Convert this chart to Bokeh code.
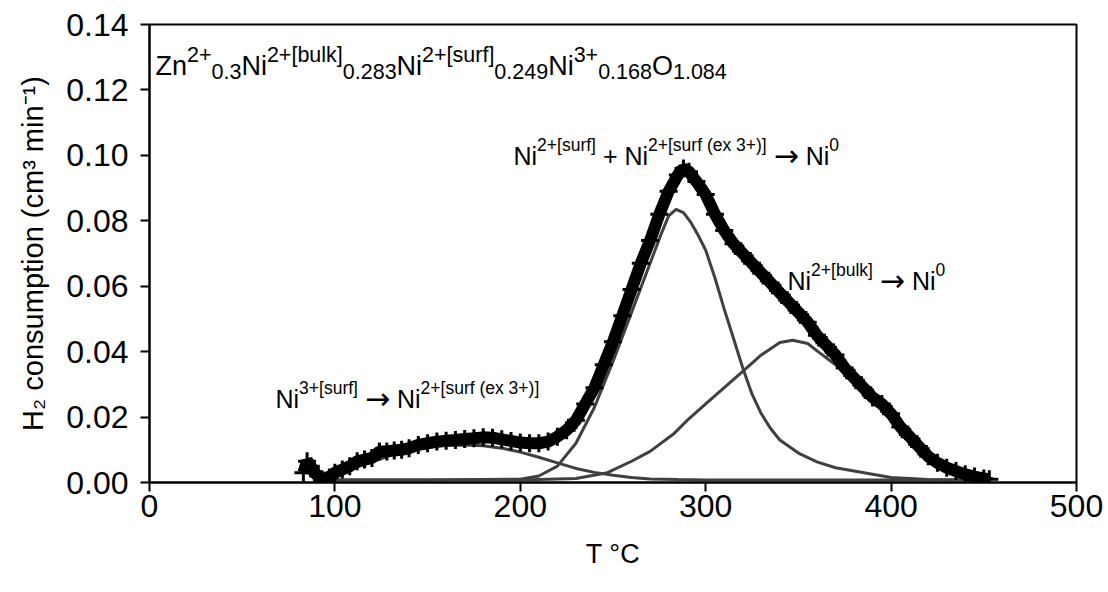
import math
from bokeh.plotting import figure
from bokeh.models import Label, FixedTicker, NumeralTickFormatter, Range1d
from bokeh.embed import file_html
from bokeh.resources import INLINE

# ---------------- data ----------------
temp_main = [83, 85, 87, 89, 91, 93, 95, 97,
             100, 104, 108, 112, 116, 120, 124, 128, 132, 136, 140,
             145, 150, 155, 160, 165, 170, 175, 180, 185, 190, 195, 200, 205, 210, 215, 220,
             225, 230, 235, 240, 245, 250, 255, 260, 265, 270, 275, 280, 285,
             288, 291,
             295, 300, 305, 310, 315, 320, 325, 330, 335, 340, 345, 350, 355, 360, 365, 370,
             375, 380, 385, 390, 395, 400, 405, 410, 415, 420, 425, 430, 435, 440, 445, 450,
             453]
h2_main = [0.0030, 0.0065, 0.0050, 0.0030, 0.0020, 0.0010, 0.0005, 0.0015,
           0.0030, 0.0040, 0.0050, 0.0065, 0.0070, 0.0075, 0.0095, 0.0095, 0.0098, 0.0100, 0.0105,
           0.0115, 0.0120, 0.0125, 0.0128, 0.0130, 0.0133, 0.0135, 0.0138, 0.0137, 0.0132, 0.0127,
           0.0122, 0.0120, 0.0120, 0.0125, 0.0140,
           0.0160, 0.0190, 0.0240, 0.0290, 0.0360, 0.0430, 0.0510, 0.0590, 0.0670, 0.0740, 0.0820,
           0.0890, 0.0940,
           0.0960, 0.0950,
           0.0920, 0.0880, 0.0820, 0.0770, 0.0730, 0.0700, 0.0670, 0.0640, 0.0610, 0.0580, 0.0550,
           0.0520, 0.0490, 0.0450, 0.0420, 0.0390, 0.0350, 0.0320, 0.0290, 0.0260, 0.0240, 0.0210,
           0.0170, 0.0140, 0.0110, 0.0080, 0.0060, 0.0045, 0.0035, 0.0025, 0.0018, 0.0012,
           0.0010]

# Ni3+[surf] component
temp_c1 = [97, 100, 110, 120, 130, 140, 150, 160, 170, 180, 190, 200, 210, 220, 230, 240, 250,
           260, 270, 285, 300, 350, 400, 440]
h2_c1 = [0.0010, 0.0022, 0.0043, 0.0063, 0.0083, 0.0098, 0.0108, 0.0113, 0.0115, 0.0112, 0.0105,
         0.0093, 0.0077, 0.0060, 0.0043, 0.0031, 0.0022, 0.0015, 0.0011, 0.0009, 0.0008, 0.0008,
         0.0008, 0.0008]

# Ni2+[surf] component
temp_c2 = [97, 150, 200, 210, 220, 230, 240, 250, 260, 270, 276, 280, 284, 288, 292, 296, 300,
           305, 310, 315, 320, 325, 330, 335, 340, 350, 360, 370, 380, 390, 400, 420, 440]
h2_c2 = [0.0008, 0.0008, 0.0010, 0.0020, 0.0050, 0.0120, 0.0230, 0.0370, 0.0520, 0.0670, 0.0760,
         0.0815, 0.0835, 0.0825, 0.0795, 0.0755, 0.0710, 0.0625, 0.0530, 0.0440, 0.0350, 0.0270,
         0.0210, 0.0165, 0.0130, 0.0090, 0.0063, 0.0045, 0.0035, 0.0025, 0.0015, 0.0009, 0.0008]

# Ni2+[bulk] component
temp_c3 = [97, 200, 230, 247, 260, 270, 283, 290, 300, 310, 320, 330, 340, 347, 355, 362, 370,
           380, 390, 400, 410, 420, 430, 440, 450]
h2_c3 = [0.0008, 0.0008, 0.0012, 0.0030, 0.0065, 0.0095, 0.0150, 0.0190, 0.0240, 0.0290, 0.0340,
         0.0390, 0.0428, 0.0435, 0.0425, 0.0394, 0.0360, 0.0310, 0.0250, 0.0190, 0.0130, 0.0080,
         0.0045, 0.0022, 0.0012]

x_ticks = [0, 100, 200, 300, 400, 500]
y_ticks = [0.00, 0.02, 0.04, 0.06, 0.08, 0.10, 0.12, 0.14]

# ---------------- layout ----------------
W, H = 1108, 592
BL, BR, BT, BB = 149, 32, 24, 110
FW, FH = W - BL - BR, H - BT - BB
X0, X1, Y0, Y1 = 0, 500, 0.0, 0.14
FONT = "Liberation Sans"
ARROW_FONT = "DejaVu Sans"


def px2x(px):
    return X0 + (px - BL) * (X1 - X0) / FW


def px2y(py):
    return Y0 + (H - BB - py) * (Y1 - Y0) / FH


p = figure(width=W, height=H, x_range=Range1d(X0, X1), y_range=Range1d(Y0, Y1),
           output_backend="svg", toolbar_location=None, title=None,
           min_border_left=BL, min_border_right=BR, min_border_top=BT, min_border_bottom=BB)
p.background_fill_color = "white"
p.border_fill_color = "white"
p.outline_line_color = "black"
p.outline_line_width = 2
p.xgrid.visible = False
p.ygrid.visible = False

for ax in (p.xaxis[0], p.yaxis[0]):
    ax.axis_line_color = "black"
    ax.axis_line_width = 2
    ax.major_tick_line_color = "black"
    ax.major_tick_line_width = 2
    ax.major_tick_out = 9
    ax.major_tick_in = 0
    ax.minor_tick_out = 0
    ax.minor_tick_in = 0
    ax.major_label_text_font = FONT
    ax.major_label_text_font_size = "32px"
    ax.major_label_text_color = "black"
    ax.axis_label_text_font = FONT
    ax.axis_label_text_font_style = "normal"
    ax.axis_label_text_color = "black"

p.xaxis.ticker = FixedTicker(ticks=x_ticks)
p.yaxis.ticker = FixedTicker(ticks=y_ticks)
p.yaxis.formatter = NumeralTickFormatter(format="0.00")
p.xaxis.major_label_standoff = 3
p.yaxis.major_label_standoff = 12
p.xaxis.axis_label = "T °C"
p.xaxis.axis_label_text_font_size = "27px"
p.xaxis.axis_label_standoff = 19
p.yaxis.axis_label = "H₂ consumption (cm³ min⁻¹)"
p.yaxis.axis_label_text_font_size = "29px"
p.yaxis.axis_label_standoff = 14

# ---------------- data glyphs ----------------
GREY = "#404040"
p.line(temp_c1, h2_c1, line_width=3, color=GREY)
p.line(temp_c2, h2_c2, line_width=3, color=GREY)
p.line(temp_c3, h2_c3, line_width=3, color=GREY)
p.line(temp_main, h2_main, line_width=12, color="black")
p.scatter(temp_main, h2_main, marker="cross", size=18, line_width=3, color="black")

# ---------------- rich text helper ----------------
NB = "\u00a0"
ARIAL = {' ': 278, NB: 278, '.': 278, '+': 584, '-': 333, '[': 278, ']': 278, '(': 333, ')': 333,
         'a': 556, 'b': 556, 'c': 500, 'e': 556, 'f': 278, 'i': 222, 'k': 500, 'l': 222,
         'm': 833, 'n': 556, 'o': 556, 'p': 556, 'r': 333, 's': 500, 't': 278, 'u': 556,
         'x': 500, 'N': 722, 'O': 778, 'Z': 611, 'H': 722, 'T': 611, 'C': 722}


def tw(s, size, kind):
    if kind == "arr":
        return 0.838 * size * len(s)
    return sum(ARIAL.get(c, 556) for c in s) / 1000.0 * size


def rich(segs, x0, y0, base, small, rise, drop, arrow=30):
    cur = 0
    for t, k in segs:
        s = {"n": base, "sup": small, "sub": small, "arr": arrow}[k]
        d = {"n": 0, "sup": rise, "sub": -drop, "arr": 0}[k]
        p.add_layout(Label(x=px2x(x0 + cur), y=px2y(y0 - d), text=t,
                           text_font=ARROW_FONT if k == "arr" else FONT,
                           text_font_size=f"{s}px", text_color="black",
                           text_baseline="alphabetic", text_align="left"))
        cur += tw(t, s, k)


# formula (top left)
rich([("Zn", "n"), ("2+", "sup"), ("0.3", "sub"), ("Ni", "n"), ("2+[bulk]", "sup"),
      ("0.283", "sub"), ("Ni", "n"), ("2+[surf]", "sup"), ("0.249", "sub"), ("Ni", "n"),
      ("3+", "sup"), ("0.168", "sub"), ("O", "n"), ("1.084", "sub")],
     155, 65, 27, 21.5, 11, 6)

# peak annotations
rich([("Ni", "n"), ("2+[surf]", "sup"), (NB + "+" + NB + "Ni", "n"),
      ("2+[surf" + NB + "(ex" + NB + "3+)]", "sup"), (NB, "n"), ("→", "arr"),
      (NB + "Ni", "n"), ("0", "sup")], 513, 155, 25, 17.5, 11, 5)
rich([("Ni", "n"), ("2+[bulk]", "sup"), (NB, "n"), ("→", "arr"), (NB + "Ni", "n"),
      ("0", "sup")], 787, 280, 25, 17.5, 11, 5)
rich([("Ni", "n"), ("3+[surf]", "sup"), (NB, "n"), ("→", "arr"), (NB + "Ni", "n"),
      ("2+[surf" + NB + "(ex" + NB + "3+)]", "sup")], 275, 398, 25, 17.5, 11, 5)

open("out.html", "w").write(file_html(p, INLINE))
